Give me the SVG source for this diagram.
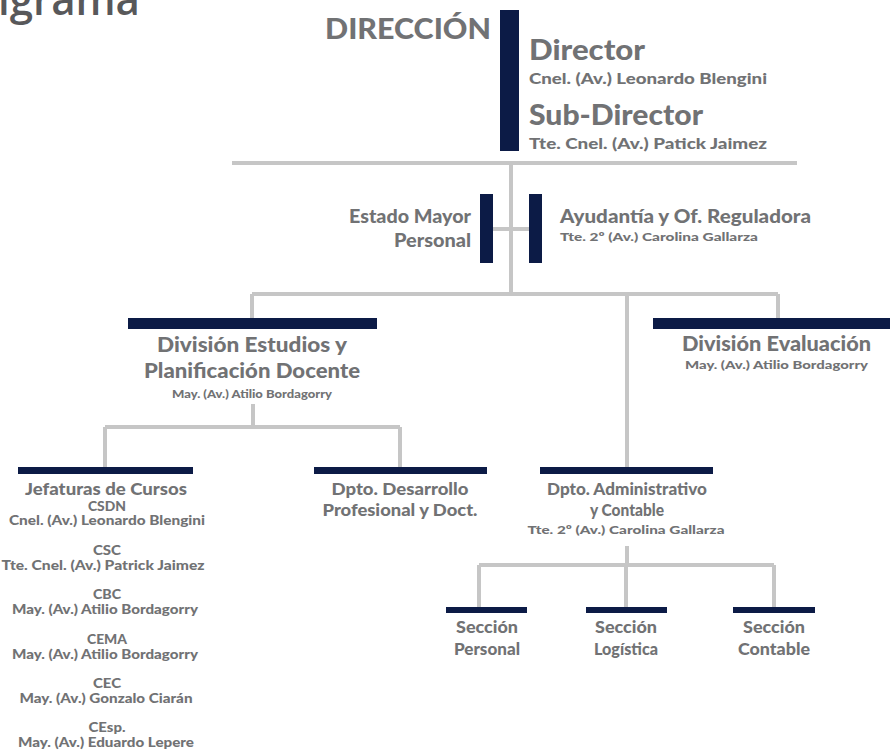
<svg xmlns="http://www.w3.org/2000/svg" width="890" height="753" viewBox="0 0 890 753">
<style>
.t{font-family:Lato,"Liberation Sans",sans-serif;font-weight:900;fill:#717274}
.c{text-anchor:middle}
.e{text-anchor:end}
.bar{fill:#0c1b46}
.ln{stroke:#c6c6c6;stroke-width:4;fill:none}
</style>
<rect width="890" height="753" fill="#ffffff"/>
<text x="-2" y="15" style="font-family:'Open Sans','Liberation Sans',sans-serif;font-weight:600;fill:#58585a" font-size="44" textLength="142" lengthAdjust="spacingAndGlyphs">igrama</text>

<g id="connectors">
<path class="ln" d="M232 163H797M511 163V294M492 229H530M252 294H778M252 294V318M778 294V318M627 294V468"/>
<path class="ln" d="M253 404V427M105 427H400M105 427V468M400 427V468"/>
<path class="ln" d="M627 546V565M479 565H774M479 565V608M626 565V608M774 565V608"/>
</g>

<g id="direccion">
<text class="t" x="325" y="39" font-size="29" textLength="166" lengthAdjust="spacingAndGlyphs">DIRECCIÓN</text>
<rect class="bar" x="500" y="10" width="19" height="141"/>
<text class="t" x="529" y="60" font-size="28" textLength="116" lengthAdjust="spacingAndGlyphs">Director</text>
<text class="t" x="529" y="84" font-size="14.5" textLength="238" lengthAdjust="spacingAndGlyphs">Cnel. (Av.) Leonardo Blengini</text>
<text class="t" x="529" y="125" font-size="28" textLength="174" lengthAdjust="spacingAndGlyphs">Sub-Director</text>
<text class="t" x="529" y="149" font-size="14.5" textLength="238" lengthAdjust="spacingAndGlyphs">Tte. Cnel. (Av.) Patick Jaimez</text>
</g>

<g id="estado-mayor">
<rect class="bar" x="480" y="194" width="13" height="69"/>
<text class="t e" x="471" y="223" font-size="18" textLength="122" lengthAdjust="spacingAndGlyphs">Estado Mayor</text>
<text class="t e" x="471" y="247" font-size="18" textLength="77" lengthAdjust="spacingAndGlyphs">Personal</text>
</g>

<g id="ayudantia">
<rect class="bar" x="529" y="194" width="13" height="69"/>
<text class="t" x="560" y="223" font-size="18" textLength="251" lengthAdjust="spacingAndGlyphs">Ayudantía y Of. Reguladora</text>
<text class="t" x="560" y="241" font-size="11.5" textLength="198" lengthAdjust="spacingAndGlyphs">Tte. 2º (Av.) Carolina Gallarza</text>
</g>

<g id="div-estudios">
<rect class="bar" x="128" y="318" width="249" height="11"/>
<text class="t c" x="252" y="352" font-size="20" textLength="190" lengthAdjust="spacingAndGlyphs">División Estudios y</text>
<text class="t c" x="252" y="378" font-size="20" textLength="216" lengthAdjust="spacingAndGlyphs">Planificación Docente</text>
<text class="t c" x="252" y="398" font-size="12" textLength="160" lengthAdjust="spacingAndGlyphs">May. (Av.) Atilio Bordagorry</text>
</g>

<g id="div-evaluacion">
<rect class="bar" x="653" y="318" width="237" height="11"/>
<text class="t" x="682" y="351" font-size="20" textLength="189" lengthAdjust="spacingAndGlyphs">División Evaluación</text>
<text class="t" x="685" y="369" font-size="12" textLength="183" lengthAdjust="spacingAndGlyphs">May. (Av.) Atilio Bordagorry</text>
</g>

<g id="jefaturas">
<rect class="bar" x="18" y="467" width="175" height="7"/>
<text class="t c" x="106" y="495" font-size="16.5" textLength="162" lengthAdjust="spacingAndGlyphs">Jefaturas de Cursos</text>
<text class="t c" x="107" y="511" font-size="12.5" textLength="38" lengthAdjust="spacingAndGlyphs">CSDN</text>
<text class="t c" x="107" y="525" font-size="12.5" textLength="196" lengthAdjust="spacingAndGlyphs">Cnel. (Av.) Leonardo Blengini</text>
<text class="t c" x="107" y="555" font-size="12.5" textLength="28" lengthAdjust="spacingAndGlyphs">CSC</text>
<text class="t c" x="103" y="570" font-size="12.5" textLength="203" lengthAdjust="spacingAndGlyphs">Tte. Cnel. (Av.) Patrick Jaimez</text>
<text class="t c" x="107" y="599" font-size="12.5" textLength="28" lengthAdjust="spacingAndGlyphs">CBC</text>
<text class="t c" x="105" y="614" font-size="12.5" textLength="186" lengthAdjust="spacingAndGlyphs">May. (Av.) Atilio Bordagorry</text>
<text class="t c" x="107" y="644" font-size="12.5" textLength="40" lengthAdjust="spacingAndGlyphs">CEMA</text>
<text class="t c" x="105" y="659" font-size="12.5" textLength="186" lengthAdjust="spacingAndGlyphs">May. (Av.) Atilio Bordagorry</text>
<text class="t c" x="107" y="688" font-size="12.5" textLength="28" lengthAdjust="spacingAndGlyphs">CEC</text>
<text class="t c" x="106" y="703" font-size="12.5" textLength="173" lengthAdjust="spacingAndGlyphs">May. (Av.) Gonzalo Ciarán</text>
<text class="t c" x="107" y="732" font-size="12.5" textLength="37" lengthAdjust="spacingAndGlyphs">CEsp.</text>
<text class="t c" x="106" y="747" font-size="12.5" textLength="176" lengthAdjust="spacingAndGlyphs">May. (Av.) Eduardo Lepere</text>
</g>

<g id="dpto-desarrollo">
<rect class="bar" x="314" y="467" width="173" height="7"/>
<text class="t c" x="400" y="495" font-size="16.5" textLength="137" lengthAdjust="spacingAndGlyphs">Dpto. Desarrollo</text>
<text class="t c" x="400" y="516" font-size="16.5" textLength="155" lengthAdjust="spacingAndGlyphs">Profesional y Doct.</text>
</g>

<g id="dpto-administrativo">
<rect class="bar" x="540" y="467" width="173" height="7"/>
<text class="t c" x="627" y="495" font-size="16.5" textLength="160" lengthAdjust="spacingAndGlyphs">Dpto. Administrativo</text>
<text class="t c" x="627" y="516" font-size="16.5" textLength="74" lengthAdjust="spacingAndGlyphs">y Contable</text>
<text class="t c" x="626" y="534" font-size="12" textLength="197" lengthAdjust="spacingAndGlyphs">Tte. 2º (Av.) Carolina Gallarza</text>
</g>

<g id="seccion-personal">
<rect class="bar" x="446" y="607" width="81" height="6"/>
<text class="t c" x="487" y="633" font-size="16.5" textLength="62" lengthAdjust="spacingAndGlyphs">Sección</text>
<text class="t c" x="487" y="655" font-size="16.5" textLength="66" lengthAdjust="spacingAndGlyphs">Personal</text>
</g>

<g id="seccion-logistica">
<rect class="bar" x="586" y="607" width="81" height="6"/>
<text class="t c" x="626" y="633" font-size="16.5" textLength="62" lengthAdjust="spacingAndGlyphs">Sección</text>
<text class="t c" x="626" y="655" font-size="16.5" textLength="64" lengthAdjust="spacingAndGlyphs">Logística</text>
</g>

<g id="seccion-contable">
<rect class="bar" x="733" y="607" width="82" height="6"/>
<text class="t c" x="774" y="633" font-size="16.5" textLength="62" lengthAdjust="spacingAndGlyphs">Sección</text>
<text class="t c" x="774" y="655" font-size="16.5" textLength="72" lengthAdjust="spacingAndGlyphs">Contable</text>
</g>
</svg>
